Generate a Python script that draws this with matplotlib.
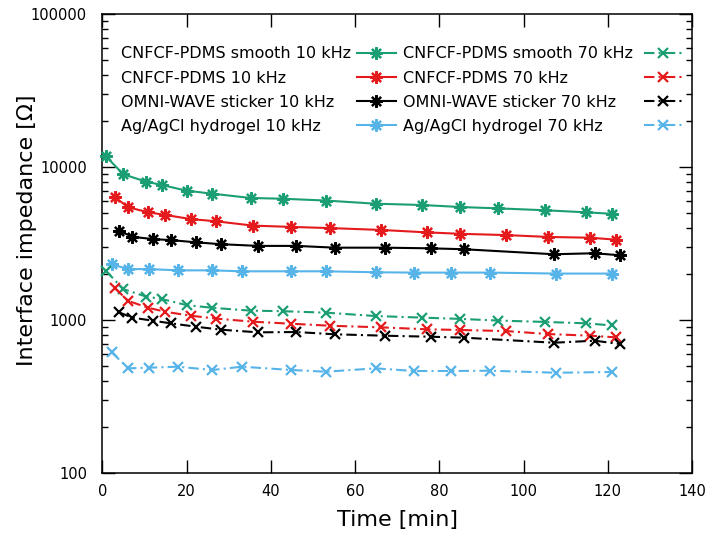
import numpy as np
import matplotlib
matplotlib.use("Agg")
import matplotlib.pyplot as plt
from matplotlib.ticker import LogLocator, FixedLocator, NullFormatter

# Data (time in min, impedance in Ohm)
t_smooth = [0.8, 5.0, 10.4, 14.1, 20.0, 26.1, 35.2, 42.8, 53.1, 64.9, 75.9, 85.0, 94.0, 105.0, 114.8, 120.9]
smooth_10k = [11800, 8970, 8030, 7640, 7010, 6700, 6280, 6210, 6040, 5760, 5650, 5480, 5370, 5220, 5060, 4950]
smooth_70k = [2100, 1590, 1420, 1370, 1250, 1200, 1150, 1140, 1115, 1060, 1035, 1015, 990, 970, 950, 920]

t_cnfcf = [3.0, 6.2, 10.9, 15.0, 21.0, 27.0, 35.8, 44.9, 54.0, 66.1, 77.0, 85.0, 95.9, 105.9, 115.9, 121.9]
cnfcf_10k = [6340, 5450, 5060, 4860, 4570, 4420, 4140, 4060, 3990, 3880, 3740, 3660, 3590, 3490, 3450, 3350]
cnfcf_70k = [1610, 1330, 1200, 1130, 1065, 1020, 973, 944, 916, 894, 868, 859, 845, 808, 788, 769]

t_omni = [4.0, 7.1, 12.0, 16.2, 22.2, 28.1, 37.0, 46.1, 55.2, 67.1, 78.0, 85.9, 107.2, 116.9, 122.8]
omni_10k = [3830, 3500, 3380, 3330, 3220, 3130, 3050, 3050, 2970, 2970, 2940, 2900, 2690, 2730, 2650]
omni_70k = [1120, 1035, 988, 950, 903, 863, 829, 833, 805, 788, 776, 765, 709, 731, 696]

t_agcl = [2.2, 6.2, 11.1, 18.0, 26.1, 33.1, 44.9, 53.1, 64.9, 74.0, 82.9, 92.0, 107.8, 120.9]
agcl_10k = [2310, 2150, 2150, 2110, 2110, 2080, 2080, 2080, 2050, 2040, 2040, 2040, 2010, 2010]
agcl_70k = [614, 482, 487, 494, 470, 494, 470, 458, 482, 463, 463, 465, 451, 456]

names = ["CNFCF-PDMS smooth", "CNFCF-PDMS", "OMNI-WAVE sticker", "Ag/AgCl hydrogel"]
colors = ["#1b9e74", "#e41a1c", "#000000", "#56b4e9"]
times = [t_smooth, t_cnfcf, t_omni, t_agcl]
vals_10k = [smooth_10k, cnfcf_10k, omni_10k, agcl_10k]
vals_70k = [smooth_70k, cnfcf_70k, omni_70k, agcl_70k]

plt.rcParams['font.family'] = ['DejaVu Sans']

fig = plt.figure(figsize=(7.09, 5.34), dpi=100)
ax = fig.add_axes([0.1443, 0.1148, 0.8317, 0.8584])

star = (8, 2, 0)
dashdot = (0, (5, 2, 1, 2))

# 10 kHz (solid) first so they fill legend column 1
for t, v, c, n in zip(times, vals_10k, colors, names):
    ax.plot(t, v, color=c, lw=1.5, marker=star, ms=9, mew=1.6,
            label=n + " 10 kHz", clip_on=False, zorder=3)
for t, v, c, n in zip(times, vals_70k, colors, names):
    ax.plot(t, v, color=c, lw=1.5, ls=dashdot, marker='x', ms=7, mew=1.6,
            label=n + " 70 kHz", clip_on=False, zorder=3)

ax.set_yscale('log')
ax.set_ylim(100, 100000)
ax.set_xlim(0, 140)
ax.xaxis.set_major_locator(FixedLocator(np.arange(0, 141, 20)))
ax.yaxis.set_major_locator(FixedLocator([100, 1000, 10000, 100000]))
ax.yaxis.set_major_formatter(plt.FuncFormatter(lambda v, p: "%d" % v))
ax.yaxis.set_minor_locator(LogLocator(base=10, subs=np.arange(2, 10)))
ax.yaxis.set_minor_formatter(NullFormatter())

ax.tick_params(which='both', direction='in', top=True, right=True, width=1.0)
ax.tick_params(which='major', length=9.5, labelsize=10.5)
ax.tick_params(axis='y', which='major', pad=11)
ax.tick_params(axis='x', which='major', pad=8)
ax.tick_params(which='minor', length=4.5)
for s in ax.spines.values():
    s.set_linewidth(1.1)

ax.set_xlabel("Time [min]", fontsize=16, labelpad=8)
ax.set_ylabel("Interface impedance [Ω]", fontsize=16)
ax.yaxis.set_label_coords(-0.111, 0.53)

leg = ax.legend(ncol=2, markerfirst=False, frameon=False, fontsize=11.5,
                loc='upper left', bbox_to_anchor=(0.031, 0.930),
                borderpad=0, borderaxespad=0, handlelength=2.4,
                handletextpad=0.15, columnspacing=0.44, labelspacing=0.57)

# gnuplot-like key: text left aligned, samples pushed to the right edge
col_widths = [275, 280]
for col, w in zip(leg._legend_handle_box.get_children(), col_widths):
    col.width = w
    for item in col.get_children():
        item.mode = "expand"

fig.savefig("out.png", dpi=100)
